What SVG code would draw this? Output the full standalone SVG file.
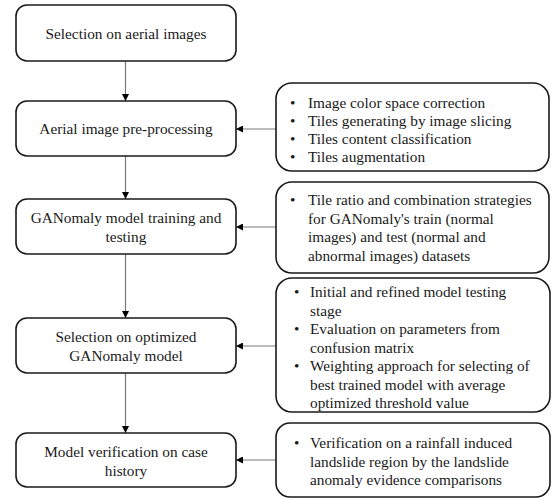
<svg xmlns="http://www.w3.org/2000/svg" width="554" height="499" viewBox="0 0 554 499">
<style>
.box{fill:#fff;stroke:#1a1a1a;stroke-width:1.6}
.t{font-family:"Liberation Serif","Times New Roman",serif;font-size:15.3px;fill:#1a1a1a}
.c{text-anchor:middle}
.con{stroke:#7a7a7a;stroke-width:1.2;fill:none;marker-end:url(#ah)}
</style>
<defs>
<marker id="ah" viewBox="0 0 10 10" refX="10" refY="5" markerWidth="7" markerHeight="7" markerUnits="userSpaceOnUse" orient="auto">
<path d="M0,0 L10,5 L0,10 Z" fill="#000"/>
</marker>
</defs>
<rect width="554" height="499" fill="#fff"/>
<g id="connectors">
<line class="con" x1="125.5" y1="61" x2="125.5" y2="101"/>
<line class="con" x1="125.5" y1="156" x2="125.5" y2="199"/>
<line class="con" x1="125.5" y1="254" x2="125.5" y2="318"/>
<line class="con" x1="125.5" y1="373" x2="125.5" y2="433"/>
<line class="con" x1="276" y1="129" x2="236" y2="129"/>
<line class="con" x1="276" y1="227" x2="236" y2="227"/>
<line class="con" x1="276" y1="346" x2="236" y2="346"/>
<line class="con" x1="276" y1="460" x2="236" y2="460"/>
</g>
<g id="n1">
<rect class="box" x="16" y="5" width="220" height="56" rx="11"/>
<text class="t c" x="126" y="38.5">Selection on aerial images</text>
</g>
<g id="n2">
<rect class="box" x="16" y="101" width="220" height="55" rx="11"/>
<text class="t c" x="126" y="133.5">Aerial image pre-processing</text>
</g>
<g id="n3">
<rect class="box" x="16" y="199" width="220" height="55" rx="11"/>
<text class="t c" x="126" y="223">GANomaly model training and</text>
<text class="t c" x="126" y="242">testing</text>
</g>
<g id="n4">
<rect class="box" x="16" y="318" width="220" height="55" rx="11"/>
<text class="t c" x="126" y="342">Selection on optimized</text>
<text class="t c" x="126" y="361">GANomaly model</text>
</g>
<g id="n5">
<rect class="box" x="16" y="433" width="220" height="54" rx="11"/>
<text class="t c" x="126" y="457">Model verification on case</text>
<text class="t c" x="126" y="475.5">history</text>
</g>
<g id="r1">
<rect class="box" x="276" y="83" width="273" height="88" rx="16"/>
<text class="t" x="290" y="108">•</text><text class="t" x="308" y="108">Image color space correction</text>
<text class="t" x="290" y="126">•</text><text class="t" x="308" y="126">Tiles generating by image slicing</text>
<text class="t" x="290" y="144">•</text><text class="t" x="308" y="144">Tiles content classification</text>
<text class="t" x="290" y="162">•</text><text class="t" x="308" y="162">Tiles augmentation</text>
</g>
<g id="r2">
<rect class="box" x="276" y="182" width="273" height="91" rx="16"/>
<text class="t" x="290" y="205">•</text><text class="t" x="308" y="205">Tile ratio and combination strategies</text>
<text class="t" x="308" y="223.5">for GANomaly's train (normal</text>
<text class="t" x="308" y="242">images) and test (normal and</text>
<text class="t" x="308" y="260.5">abnormal images) datasets</text>
</g>
<g id="r3">
<rect class="box" x="276" y="278" width="274" height="134" rx="16"/>
<text class="t" x="294" y="297">•</text><text class="t" x="310" y="297">Initial and refined model testing</text>
<text class="t" x="310" y="315.5">stage</text>
<text class="t" x="294" y="334">•</text><text class="t" x="310" y="334">Evaluation on parameters from</text>
<text class="t" x="310" y="352.5">confusion matrix</text>
<text class="t" x="294" y="371">•</text><text class="t" x="310" y="371">Weighting approach for selecting of</text>
<text class="t" x="310" y="389.5">best trained model with average</text>
<text class="t" x="310" y="408">optimized threshold value</text>
</g>
<g id="r4">
<rect class="box" x="276" y="423" width="274" height="74" rx="14"/>
<text class="t" x="294" y="448">•</text><text class="t" x="310" y="448">Verification on a rainfall induced</text>
<text class="t" x="310" y="466.5">landslide region by the landslide</text>
<text class="t" x="310" y="485">anomaly evidence comparisons</text>
</g>
</svg>
